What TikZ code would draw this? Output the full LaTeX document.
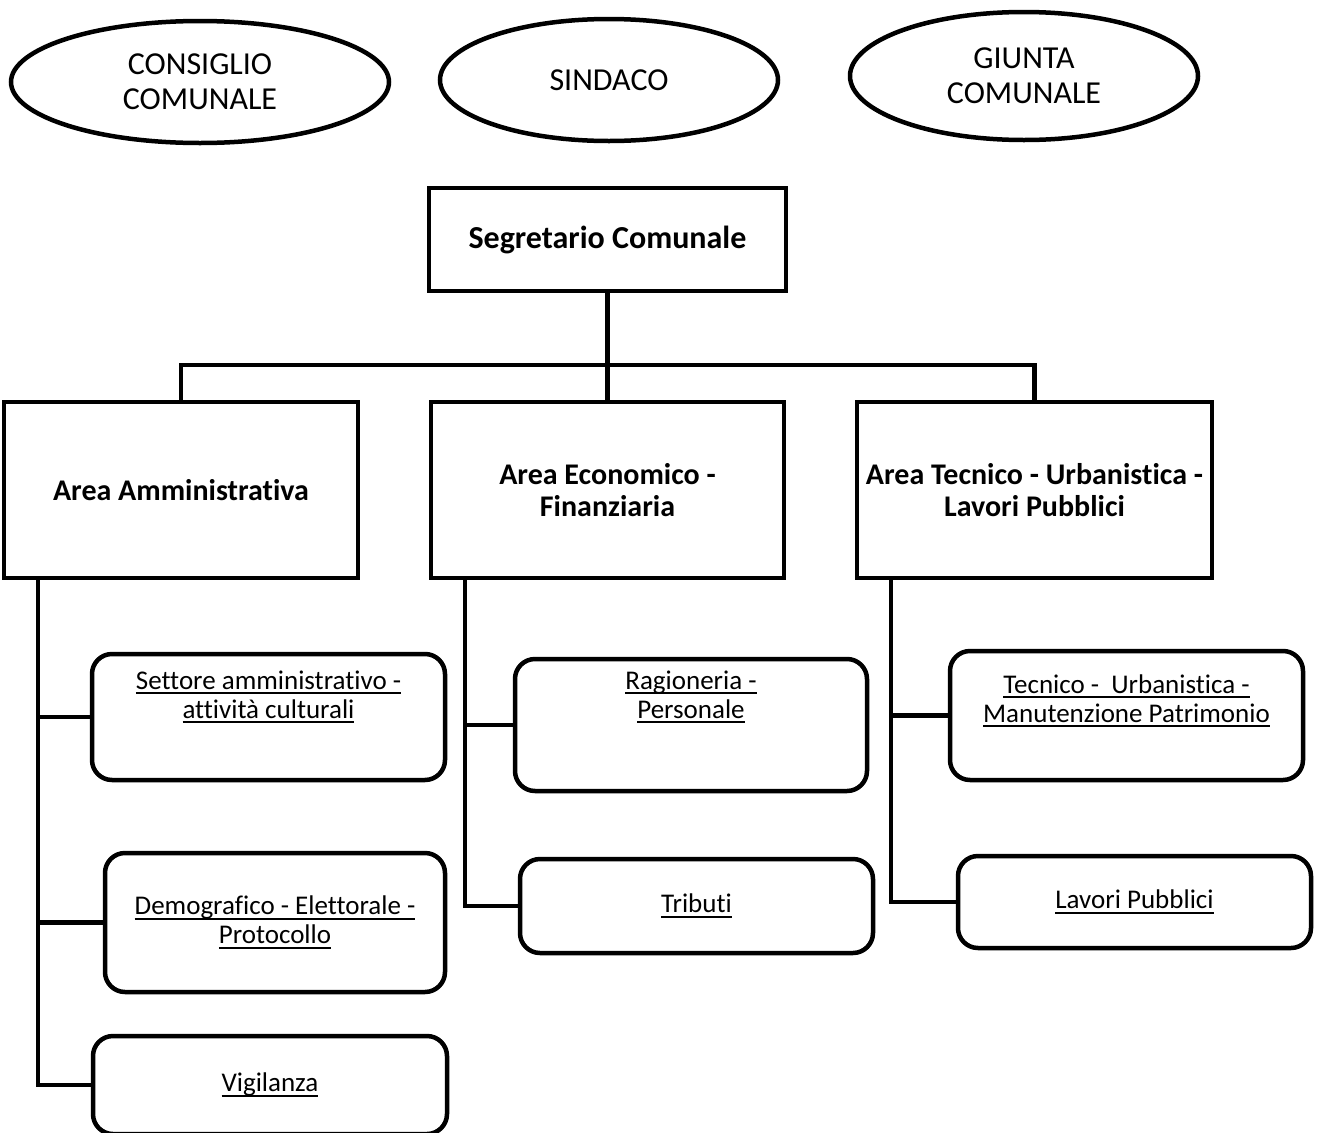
\documentclass[tikz,border=0pt]{standalone}
\usepackage{fontspec}
\setmainfont[Ligatures=NoCommon]{Carlito}
\usetikzlibrary{shapes.geometric,positioning}

\newcommand\sottolinea[1]{\setbox0\hbox{#1}\rlap{\rule[-4.8pt]{\wd0}{1.7pt}}\box0}

\begin{document}
\begin{tikzpicture}[
  x=1pt,
  y=-1pt,
  line width=4.5pt,
  ente/.style={draw, ellipse, minimum width=378pt, minimum height=122pt, align=center, font=\fontsize{32}{35}\selectfont},
  capo/.style={draw, minimum width=357pt, minimum height=103pt, font=\bfseries\fontsize{32}{33}\selectfont},
  area/.style={draw, minimum width=354pt, minimum height=176pt, inner sep=2pt, align=center, font=\bfseries\fontsize{30}{32}\selectfont},
  settore/.style={draw, rounded corners=20pt, minimum width=353pt, align=center, font=\fontsize{27}{29}\selectfont},
  voce/.style={align=center, font=\fontsize{27}{29}\selectfont}
]
\useasboundingbox (0,0) rectangle (1318,1133);

\node[ente] (consiglio) at (200,82) {CONSIGLIO\\COMUNALE};
\node[ente, minimum width=338pt] (sindaco) at (609,80) {SINDACO};
\node[ente, minimum width=348pt, minimum height=128pt] (giunta) at (1024,76) {GIUNTA\\COMUNALE};

\node[capo] (segretario) at (607.5,239.5) {Segretario Comunale};

\node[area] (amm) at (181,490) {Area Amministrativa};
\node[area, minimum width=353pt] (eco) at (607.5,490) {Area Economico -\\Finanziaria};
\node[area, minimum width=355pt] (tec) at (1034.5,490) {Area Tecnico - Urbanistica -\\Lavori Pubblici};

\coordinate (barra) at (607.5,365);
\draw (segretario) -- (eco);
\draw (amm.north) |- (barra) -| (tec.north);

\node[settore, minimum height=126pt] (s1) at (268.5,717) {};
\node[voce] (s1t) at ([yshift=-45pt]s1.north) {\sottolinea{Settore amministrativo -}\\\sottolinea{attività culturali}};
\node[settore, minimum width=340pt, minimum height=139pt] (s2) at (275,922.5) {\sottolinea{Demografico - Elettorale -}\\\sottolinea{Protocollo}};
\node[settore, minimum width=354pt, minimum height=98pt] (s3) at (270,1085) {\sottolinea{Vigilanza}};

\node[settore, minimum width=352pt, minimum height=132pt] (r1) at (691,725) {};
\node[voce] (r1t) at ([yshift=-40pt]r1.north) {\sottolinea{Ragioneria -}\\\sottolinea{Personale}};
\node[settore, minimum height=94pt] (r2) at (696.5,906) {\sottolinea{Tributi}};

\node[settore, minimum height=129pt] (t1) at (1126.5,715.5) {};
\node[voce] (t1t) at ([yshift=-52pt]t1.north) {\sottolinea{Tecnico -\ \ Urbanistica -}\\\sottolinea{Manutenzione Patrimonio}};
\node[settore, minimum height=92pt] (t2) at (1134.5,902) {\sottolinea{Lavori Pubblici}};

\coordinate (ammx) at ([xshift=36pt]amm.south west);
\coordinate (ecox) at ([xshift=36pt]eco.south west);
\coordinate (tecx) at ([xshift=36pt]tec.south west);

\draw (ammx) |- (s3.west);
\draw (s1.west) -- (s1.west -| ammx);
\draw (s2.west) -- (s2.west -| ammx);

\draw (ecox) |- (r2.west);
\draw (r1.west) -- (r1.west -| ecox);

\draw (tecx) |- (t2.west);
\draw (t1.west) -- (t1.west -| tecx);
\end{tikzpicture}
\end{document}
